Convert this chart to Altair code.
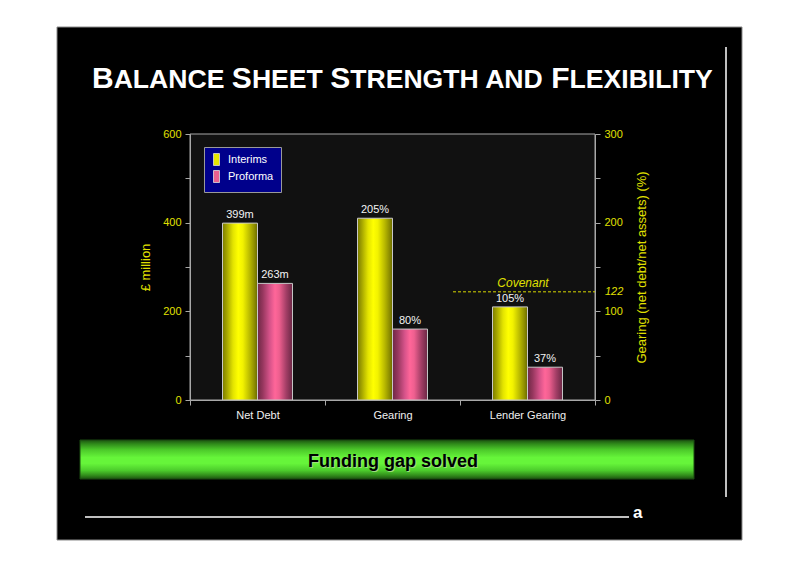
import altair as alt
import pandas as pd

# ---------------- data ----------------
categories = ["Net Debt", "Gearing", "Lender Gearing"]
series_names = ["Interims", "Proforma"]
interims = [399, 205, 105]
proforma = [263, 80, 37]
interims_labels = ["399m", "205%", "105%"]
proforma_labels = ["263m", "80%", "37%"]
left_ticks = [0, 100, 200, 300, 400, 500, 600]
right_ticks = [0, 50, 100, 150, 200, 250, 300]
covenant = 122
covenant_label = "Covenant"
title_text = "Balance Sheet Strength and Flexibility"
banner_text = "Funding gap solved"
left_title = "£ million"
right_title = "Gearing (net debt/net assets) (%)"
footer_mark = "a"

rows = []
for i, c in enumerate(categories):
    rows.append(dict(category=c, series="Interims", value=interims[i], label=interims_labels[i]))
    rows.append(dict(category=c, series="Proforma", value=proforma[i], label=proforma_labels[i]))
df = pd.DataFrame(rows)
money = df[df["category"] == "Net Debt"]
pct = df[df["category"] != "Net Debt"]
dummy = pd.DataFrame({"k": [0]})

W, H = 405, 266
FONT = "Liberation Sans"
YEL = "#e0e000"
AXC = "#a8a8a8"

yellow_grad = alt.Gradient(
    gradient="linear", x1=0, x2=1, y1=0, y2=0,
    stops=[
        alt.GradientStop(offset=0, color="#7a7a00"),
        alt.GradientStop(offset=0.12, color="#a3a300"),
        alt.GradientStop(offset=0.3, color="#e3e300"),
        alt.GradientStop(offset=0.45, color="#ffff00"),
        alt.GradientStop(offset=0.58, color="#f2f200"),
        alt.GradientStop(offset=0.78, color="#b8b800"),
        alt.GradientStop(offset=0.92, color="#8a8a00"),
        alt.GradientStop(offset=1, color="#6a6a00"),
    ],
)
pink_grad = alt.Gradient(
    gradient="linear", x1=0, x2=1, y1=0, y2=0,
    stops=[
        alt.GradientStop(offset=0, color="#6e2846"),
        alt.GradientStop(offset=0.15, color="#96375e"),
        alt.GradientStop(offset=0.35, color="#d6538a"),
        alt.GradientStop(offset=0.5, color="#ff6699"),
        alt.GradientStop(offset=0.62, color="#ee5f8f"),
        alt.GradientStop(offset=0.82, color="#a33e66"),
        alt.GradientStop(offset=1, color="#6a2744"),
    ],
)
green_grad = alt.Gradient(
    gradient="linear", x1=0, x2=0, y1=0, y2=1,
    stops=[
        alt.GradientStop(offset=0, color="#1c5410"),
        alt.GradientStop(offset=0.1, color="#2f8a1a"),
        alt.GradientStop(offset=0.25, color="#4cc92a"),
        alt.GradientStop(offset=0.45, color="#66f53a"),
        alt.GradientStop(offset=0.6, color="#66f53a"),
        alt.GradientStop(offset=0.78, color="#4ccc2c"),
        alt.GradientStop(offset=0.9, color="#33901c"),
        alt.GradientStop(offset=1, color="#1c5410"),
    ],
)

common_axis = dict(grid=False, zindex=2, domainColor=AXC, tickColor=AXC, tickSize=5,
                   labelFont=FONT, titleFont=FONT, labelFontSize=11, titleFontSize=13,
                   titleFontWeight="normal", labelPadding=4)

X = alt.X(
    "category:N",
    scale=alt.Scale(domain=categories, paddingInner=0, paddingOuter=0),
    axis=alt.Axis(title=None, labelAngle=0, tickBand="extent", labelColor="#f0f0f0",
                  **common_axis),
)
XO = alt.XOffset("series:N", scale=alt.Scale(domain=series_names, paddingInner=0, paddingOuter=0.9286))

YL = alt.Y(
    "value:Q",
    scale=alt.Scale(domain=[0, 600], nice=False),
    axis=alt.Axis(values=left_ticks, labelExpr="datum.value % 200 == 0 ? datum.label : ''",
                  title=left_title, orient="left", titlePadding=10,
                  labelColor=YEL, titleColor=YEL, **common_axis),
)
YR = alt.Y(
    "value:Q",
    scale=alt.Scale(domain=[0, 300], nice=False),
    axis=alt.Axis(values=right_ticks, labelExpr="datum.value % 100 == 0 ? datum.label : ''",
                  title=right_title, orient="right", titleAngle=270, titlePadding=26,
                  labelColor=YEL, titleColor=YEL, **common_axis),
)


def bars(data, ser, fill, y):
    return alt.Chart(data).transform_filter(alt.datum.series == ser).mark_bar(
        fill=fill, stroke="#c8c8c8", strokeWidth=1
    ).encode(x=X, xOffset=XO, y=y)


def labels(data, y):
    return alt.Chart(data).mark_text(
        color="#f4f4f4", fontSize=11, font=FONT, dy=-5, baseline="alphabetic"
    ).encode(x=X, xOffset=XO, y=y, text="label:N")


def rect(x, x2, y, y2, **kw):
    return alt.Chart(dummy).mark_rect(**kw).encode(
        x=alt.value(x), x2=alt.value(x2), y=alt.value(y), y2=alt.value(y2))


def txt(s, x, y, **kw):
    return alt.Chart(dummy).mark_text(text=s, font=FONT, **kw).encode(x=alt.value(x), y=alt.value(y))


# ---- title in small caps (Arial / Liberation Sans Bold advance widths) ----
adv = {'A': 722, 'B': 722, 'C': 722, 'D': 722, 'E': 667, 'F': 611, 'G': 778, 'H': 722,
       'I': 278, 'L': 611, 'N': 722, 'R': 722, 'S': 667, 'T': 611, 'X': 667, 'Y': 667, ' ': 278}
BIG, SMALL = 30, 26.6
runs = []
for ch in title_text:
    big = ch.isupper()
    if runs and runs[-1][1] == big:
        runs[-1][0] += ch
    else:
        runs.append([ch, big])
title_layers = []
cx = -98.0
for s, big in runs:
    size = BIG if big else SMALL
    lead = len(s) - len(s.lstrip(" "))
    cx += lead * adv[' '] * size / 1000
    body = s.strip(" ").upper()
    if body:
        title_layers.append(txt(body, cx, -46, fontSize=size, fontWeight="bold",
                                color="white", align="left", baseline="alphabetic"))
    cx += sum(adv.get(c, 600) for c in body) * size / 1000
    trail = len(s) - len(s.rstrip(" "))
    if body:
        cx += trail * adv[' '] * size / 1000

# ---- decorations ----
slide = rect(-133, 552, -107, 406, fill="black", stroke="#8a8a8a", strokeWidth=1)
plotbg = rect(0, W, 0, H, fill="#111111", stroke="#a8a8a8", strokeWidth=1)
banner = rect(-110, 504, 306, 345, fill=green_grad, stroke="#1a4a10", strokeWidth=1)
banner_shadow = txt(banner_text, 204, 334, fontSize=18, fontWeight="bold", color="#9fdc80",
                    align="center", baseline="alphabetic")
banner_label = txt(banner_text, 203, 333, fontSize=18, fontWeight="bold", color="black",
                   align="center", baseline="alphabetic")
vline = alt.Chart(dummy).mark_rule(color="white", strokeWidth=1.5).encode(
    x=alt.value(536), y=alt.value(-87), y2=alt.value(363))
hline = alt.Chart(dummy).mark_rule(color="white", strokeWidth=1.5).encode(
    x=alt.value(-105), x2=alt.value(439), y=alt.value(383))
amark = txt(footer_mark, 443, 384, fontSize=17, fontWeight="bold", color="white",
            align="left", baseline="alphabetic")

legend_pts = alt.Chart(money).mark_point(filled=True, opacity=0).encode(
    x=X, xOffset=XO, y=YL,
    color=alt.Color(
        "series:N",
        scale=alt.Scale(domain=series_names, range=["#e6e600", "#e8608f"]),
        legend=alt.Legend(
            title=None, orient="none", legendX=14, legendY=13,
            fillColor="#00008b", strokeColor="#9a9a9a", padding=7,
            labelColor="white", labelFont=FONT, labelFontSize=11, labelOffset=6,
            symbolType="M-1,-2L1,-2L1,2L-1,2Z", symbolSize=36, rowPadding=0,
            symbolStrokeColor="#dddddd", symbolStrokeWidth=0.8,
        ),
    ),
)

left_group = alt.layer(
    slide, plotbg, banner, banner_shadow, banner_label, vline, hline, amark,
    *title_layers,
    bars(money, "Interims", yellow_grad, YL),
    bars(money, "Proforma", pink_grad, YL),
    labels(money, YL),
    legend_pts,
)

cov_rule = alt.Chart(dummy).mark_rule(color="#d8d800", strokeDash=[3, 2], strokeWidth=1).encode(
    x=alt.value(263), x2=alt.value(W), y=alt.Y(datum=covenant))
cov_text = alt.Chart(dummy).mark_text(text=covenant_label, font=FONT, fontSize=12, fontStyle="italic",
                                      color=YEL, dy=-5, baseline="alphabetic", align="center").encode(
    x=alt.value(333), y=alt.Y(datum=covenant))
cov_val = alt.Chart(dummy).mark_text(text=str(covenant), font=FONT, fontSize=11, fontStyle="italic",
                                     color=YEL, baseline="middle", align="left").encode(
    x=alt.value(415), y=alt.Y(datum=covenant))

right_group = alt.layer(
    bars(pct, "Interims", yellow_grad, YR),
    bars(pct, "Proforma", pink_grad, YR),
    labels(pct, YR),
    cov_rule, cov_text, cov_val,
)

chart = alt.layer(left_group, right_group).resolve_scale(y="independent").properties(
    width=W, height=H,
    autosize=alt.AutoSizeParams(type="none"),
    padding={"left": 182, "top": 126, "right": 197, "bottom": 159},
    background="white",
).configure_view(stroke="transparent")

chart.save("out.html", embed_options={"renderer": "svg", "actions": False})
